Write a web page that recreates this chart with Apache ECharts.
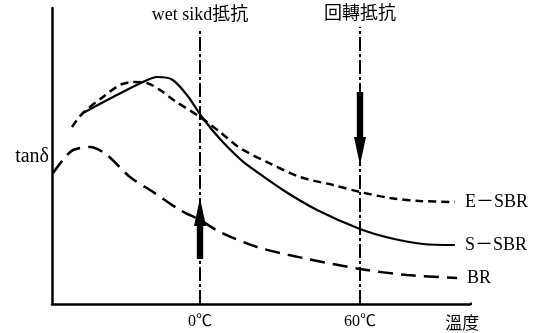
<!DOCTYPE html>
<html>
<head>
<meta charset="utf-8">
<script src="https://cdn.jsdelivr.net/npm/echarts@6/dist/echarts.min.js"></script>
<style>
html, body { margin: 0; padding: 0; background: #fff; }
#chart { width: 540px; height: 333px; }
</style>
</head>
<body>
<div id="chart"></div>
<script>
// Fonts: Latin text in a serif face, CJK in Noto Sans CJK
const LATIN = "'Liberation Serif', 'Noto Sans CJK JP', serif";
const CJK = "'Noto Sans CJK JP', 'Liberation Serif', sans-serif";

// tanδ against temperature (℃); tanδ in arbitrary units
const eSbrTemp = [-48.0, -43.9, -36.4, -30.0, -25.1, -19.9, -15.0, -9.4, 0, 7.5, 15, 25.1, 37.5, 49.9, 60, 71.25, 82.5, 95.6];
const eSbrTan  = [177, 191, 207, 219, 222, 221, 214, 203, 187, 172, 156, 142, 127, 119, 112, 106, 103, 102];

const sSbrTemp = [-43.9, -32.6, -21.4, -16.1, -10.5, -4.9, 0.75, 7.5, 15, 18.75, 31.1, 43.9, 60, 71.25, 83.6, 95.6];
const sSbrTan  = [191, 207, 222, 227, 224.5, 209, 187, 165, 145, 137, 114, 94, 75, 66, 60, 59];

const brTemp = [-55.1, -51.4, -47.6, -41.25, -34.9, -26.25, -17.6, -7.5, 0, 7.5, 21.4, 38.6, 60, 77.6, 96.4];
const brTan  = [131, 144, 154, 157, 149, 127, 112, 94, 84, 72, 57, 46, 35, 29, 26];

// Axis range
const tempMin = -55.5, tempMax = 101.25;
const tanMin = 0, tanMax = 296;

// x-axis labels
const xTickValues = [0, 60, 98.3];
const xTickLabels = ['{t|0℃}', '{t|60℃}', '{n|溫度}'];
// y-axis label
const yTickValues = [147];
const yTickLabels = ['tanδ'];

// Baseline tail rising past the end of the temperature axis
const tailTemp = [101.25, 117.4];
const tailTan  = [0, 7];

// Reference temperatures: dash-dot guides with captions
const guideTemp = [0, 60];
const guideTop  = [276, 277];
const guideText = ['wet sikd抵抗', '回轉抵抗'];

// Arrows on the guides (tail value → head value)
const arrowTemp = [0, 60];
const arrowFrom = [46, 212];
const arrowTo   = [106, 139];

const chart = echarts.init(document.getElementById('chart'), null, { renderer: 'canvas' });

const curveLabel = {
  show: true,
  formatter: '{a}',
  distance: 10,
  color: '#000',
  fontSize: 18,
  fontFamily: LATIN
};

function curve(name, temps, vals, dash, width) {
  return {
    name: name,
    type: 'line',
    data: temps.map((t, i) => [t, vals[i]]),
    smooth: 0.3,
    symbol: 'none',
    lineStyle: { color: '#000', width: width, type: dash, cap: 'butt' },
    endLabel: curveLabel,
    z: 3
  };
}

const option = {
  animation: false,
  backgroundColor: '#fff',
  grid: { left: 52, right: 70, top: 8, bottom: 29, containLabel: false },
  xAxis: {
    type: 'value',
    min: tempMin,
    max: tempMax,
    axisLine: { show: true, onZero: false, lineStyle: { color: '#000', width: 2.5 } },
    axisTick: { show: false },
    splitLine: { show: false },
    axisLabel: {
      customValues: xTickValues,
      margin: 10,
      color: '#000',
      formatter: v => xTickLabels[xTickValues.indexOf(v)] || '',
      rich: {
        t: { fontSize: 16, fontFamily: LATIN, color: '#000' },
        n: { fontSize: 17, fontFamily: CJK, color: '#000' }
      }
    }
  },
  yAxis: {
    type: 'value',
    min: tanMin,
    max: tanMax,
    axisLine: { show: true, onZero: false, lineStyle: { color: '#000', width: 2.5 } },
    axisTick: { show: false },
    splitLine: { show: false },
    axisLabel: {
      customValues: yTickValues,
      margin: 3,
      color: '#000',
      fontSize: 20,
      fontFamily: LATIN,
      formatter: v => yTickLabels[yTickValues.indexOf(v)] || ''
    }
  },
  series: [
    curve('E－SBR', eSbrTemp, eSbrTan, [8, 5], 2.5),
    curve('S－SBR', sSbrTemp, sSbrTan, 'solid', 2.2),
    curve('BR', brTemp, brTan, [15, 8], 2.5),
    {
      name: 'tail',
      type: 'line',
      data: tailTemp.map((t, i) => [t, tailTan[i]]),
      clip: false,
      symbol: 'none',
      lineStyle: { color: '#000', width: 2.5 },
      z: 2
    },
    {
      name: 'arrows',
      type: 'custom',
      clip: false,
      data: arrowTemp.map((t, i) => [t, arrowFrom[i], arrowTo[i]]),
      encode: { x: 0, y: [1, 2] },
      renderItem: function (params, api) {
        const x = api.value(0);
        const p0 = api.coord([x, api.value(1)]);
        const p1 = api.coord([x, api.value(2)]);
        const dir = p1[1] > p0[1] ? 1 : -1;
        const headLen = 28, headHalf = 6, shaftHalf = 3.2;
        const baseY = p1[1] - dir * headLen;
        return {
          type: 'group',
          children: [
            {
              type: 'rect',
              shape: {
                x: p0[0] - shaftHalf,
                y: Math.min(p0[1], baseY),
                width: shaftHalf * 2,
                height: Math.abs(baseY - p0[1]) + 1
              },
              style: { fill: '#000' }
            },
            {
              type: 'polygon',
              shape: { points: [[p1[0], p1[1]], [p1[0] - headHalf, baseY], [p1[0] + headHalf, baseY]] },
              style: { fill: '#000' }
            }
          ]
        };
      },
      markLine: {
        silent: true,
        symbol: ['none', 'none'],
        lineStyle: { color: '#000', width: 2, type: [14, 3, 3, 3] },
        label: {
          show: true,
          position: 'end',
          distance: 4,
          formatter: '{b}',
          color: '#000',
          fontSize: 18,
          fontFamily: LATIN
        },
        data: guideTemp.map((t, i) => [
          { name: guideText[i], coord: [t, tanMin] },
          { coord: [t, guideTop[i]] }
        ])
      },
      z: 4
    }
  ]
};

chart.setOption(option);
</script>
</body>
</html>
